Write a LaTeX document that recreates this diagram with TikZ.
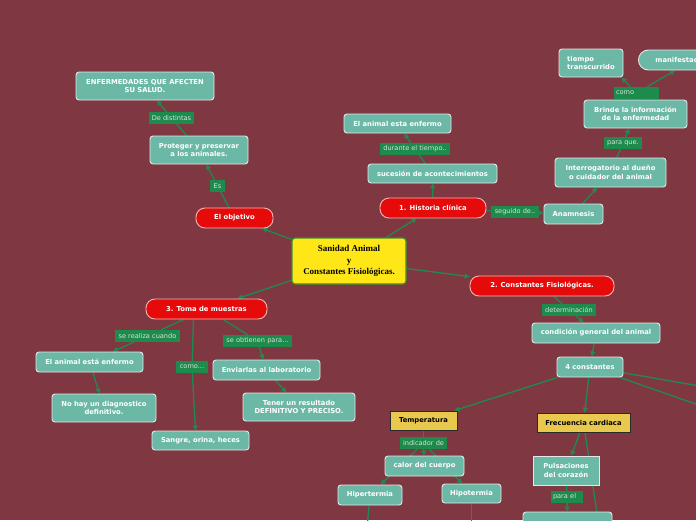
\documentclass[tikz,border=0pt]{standalone}
\usepackage{fontspec}
\newfontfamily\mapfont{DejaVu Sans}
\newfontfamily\rootfont{Liberation Serif}
\usetikzlibrary{arrows.meta, backgrounds}
\definecolor{cbg}{HTML}{7F3842}
\definecolor{cteal}{HTML}{6BB8A7}
\definecolor{cedge}{HTML}{E6E6E6}
\definecolor{cred}{HTML}{E60A0A}
\definecolor{cpink}{HTML}{F2B5B5}
\definecolor{cyellow}{HTML}{FFE617}
\definecolor{crootb}{HTML}{3E8E2A}
\definecolor{cgold}{HTML}{E9C84E}
\definecolor{cdark}{HTML}{2A2A2A}
\definecolor{clbl}{HTML}{1C8B4C}
\definecolor{clink}{HTML}{1F8A4F}
\tikzset{
  every picture/.style={x=1pt, y=-1pt},
  topic/.style={draw=cedge, fill=cteal, text=white, rounded corners=3pt, line width=0.9pt,
    font=\mapfont\bfseries\fontsize{6.8}{8.6}\selectfont, align=center, inner sep=0pt, minimum height=20pt},
  key/.style={topic, draw=cpink, fill=cred, rounded corners=9pt},
  const/.style={topic, draw=cdark, fill=cgold, text=black, rounded corners=0pt},
  root/.style={draw=crootb, fill=cyellow, text=black, rounded corners=3pt, line width=1.2pt,
    font=\rootfont\bfseries\fontsize{9}{11.8}\selectfont, align=center, inner sep=0pt},
  lbl/.style={fill=clbl, text=white!88!black, font=\mapfont\fontsize{6.6}{7}\selectfont,
    inner sep=0pt, minimum height=12pt},
  link/.style={draw=clink, line width=1.3pt},
  arrow/.style={link, -{Triangle[length=5pt, width=5pt]}},
}

\begin{document}
\begin{tikzpicture}
  \useasboundingbox (0,0) rectangle (696,520);
  \begin{scope}[on background layer]
    \fill[cbg] (0,0) rectangle (696,520);
  \end{scope}

  \node[root, minimum width=114pt, minimum height=46pt] (root) at (349,261)
    {Sanidad Animal\\y\\Constantes Fisiológicas.};

  % objetivo
  \node[key, minimum width=77pt] (objetivo) at (234.5,218) {El objetivo};
  \node[topic, minimum width=98pt, minimum height=28pt] (proteger) at (199,150) {Proteger y preservar\\a los animales.};
  \node[topic, minimum width=138pt, minimum height=28pt] (enfermedades) at (145,86) {ENFERMEDADES QUE AFECTEN\\SU SALUD.};
  \node[lbl, minimum width=45pt] (lblDist) at (171.5,118) {De distintas};
  \node[lbl, minimum width=15pt] (lblEs) at (217.5,186) {Es};

  % historia clinica
  \node[key, minimum width=106pt] (historia) at (433,208) {1. Historia clínica};
  \node[topic, minimum width=129pt, minimum height=19pt] (sucesion) at (432.5,173.5) {sucesión de acontecimientos};
  \node[topic, minimum width=107pt, minimum height=19pt] (enfermo) at (397.5,123.5) {El animal esta enfermo};
  \node[lbl, minimum width=70pt] (lblDur) at (415,149) {durante el tiempo..};
  \node[lbl, minimum width=48pt] (lblSeg) at (515,212) {seguido de..};
  \node[topic, minimum width=59pt] (anamnesis) at (573.5,214) {Anamnesis};
  \node[topic, minimum width=111pt, minimum height=29pt] (interrog) at (610.5,172.5) {Interrogatorio al dueño\\o cuidador del animal};
  \node[lbl, minimum width=38pt] (lblPara) at (623,143) {para que.};
  \node[topic, minimum width=103pt, minimum height=28pt] (brinde) at (635.5,114) {Brinde la información\\de la enfermedad};
  \node[lbl, text width=41pt, align=left, inner xsep=2pt] (lblComo) at (636.5,93) {como};
  \node[topic, minimum width=64pt, minimum height=28pt, align=left] (tiempo) at (591,63) {tiempo\\transcurrido};
  \node[topic, anchor=west, inner xsep=17pt, rounded corners=10pt] (manif) at (638,60) {manifestaciones};

  % constantes
  \node[key, minimum width=144pt] (constantes) at (542,286) {2. Constantes Fisiológicas.};
  \node[lbl, minimum width=54pt] (lblDet) at (569,310) {determinación};
  \node[topic, minimum width=128pt] (condicion) at (596,333) {condición general del animal};
  \node[topic, minimum width=66pt] (cuatro) at (590,367) {4 constantes};
  \node[const, minimum width=67pt, minimum height=19pt] (temp) at (423.5,420.5) {Temperatura};
  \node[const, minimum width=93pt, minimum height=19pt] (frec) at (583.5,422.5) {Frecuencia cardiaca};
  \node[lbl, minimum width=47pt] (lblInd) at (423.5,443) {indicador de};
  \node[topic, minimum width=79pt] (calor) at (424.5,466) {calor del cuerpo};
  \node[topic, minimum width=64pt] (hiper) at (370,495) {Hipertermia};
  \node[topic, minimum width=59pt, minimum height=19pt] (hipo) at (471.5,493.5) {Hipotermia};
  \node[topic, minimum width=66pt, minimum height=29pt, rounded corners=0pt] (pulso) at (566,470.5) {Pulsaciones\\del corazón};
  \node[lbl, text width=28pt, align=left, inner xsep=2pt] (lblParaEl) at (567,497) {para el};
  \node[topic, minimum width=89pt, minimum height=24pt] (bajo) at (567.5,524) {};
  \coordinate (offA) at (760,396.5);
  \coordinate (offB) at (760,426.5);
  \coordinate (offC) at (366,540);
  \coordinate (offD) at (471.5,540);
  \coordinate (offE) at (601,540);

  % toma de muestras
  \node[key, minimum width=121pt] (toma) at (206.5,309) {3. Toma de muestras};
  \node[lbl, minimum width=65pt] (lblReal) at (147.5,336) {se realiza cuando};
  \node[topic, minimum width=107pt] (enfermo2) at (89.5,362) {El animal está enfermo};
  \node[topic, minimum width=104pt, minimum height=28pt] (diag) at (104,408) {No hay un diagnostico\\definitivo.};
  \node[lbl, minimum width=32pt] (lblComo2) at (192,367) {como...};
  \node[topic, minimum width=97pt, minimum height=19pt] (sangre) at (200.5,440.5) {Sangre, orina, heces};
  \node[lbl, minimum width=69pt] (lblObt) at (257.5,341) {se obtienen para...};
  \node[topic, minimum width=107pt] (enviar) at (266.5,370) {Enviarlas al laboratorio};
  \node[topic, minimum width=112pt, minimum height=28pt] (tener) at (299,407) {Tener un resultado\\DEFINITIVO Y PRECISO.};

  \begin{scope}[on background layer]
    \draw[arrow] (root) -- (objetivo);
    \draw[link] (objetivo) -- (lblEs);
    \draw[arrow] (lblEs) -- (proteger);
    \draw[link] (proteger) -- (lblDist);
    \draw[arrow] (lblDist) -- (enfermedades);

    \draw[arrow] (root) -- (historia);
    \draw[arrow] (historia) -- (sucesion);
    \draw[link] (sucesion) -- (lblDur);
    \draw[arrow] (lblDur) -- (enfermo);
    \draw[link] (historia) -- (lblSeg);
    \draw[arrow] (lblSeg) -- (anamnesis);
    \draw[arrow] (anamnesis) -- (interrog);
    \draw[link] (interrog) -- (lblPara);
    \draw[arrow] (lblPara) -- (brinde);
    \draw[link] (brinde) -- (lblComo);
    \draw[arrow] (lblComo) -- ([xshift=-2pt]tiempo.south east);
    \draw[arrow] (lblComo) -- ([xshift=37pt]manif.south west);

    \draw[arrow] (root) -- (constantes);
    \draw[link] (constantes) -- (lblDet);
    \draw[arrow] (lblDet) -- (condicion);
    \draw[arrow] (condicion) -- (cuatro);
    \draw[arrow] (cuatro) -- (temp);
    \draw[arrow] (cuatro) -- (frec);
    \draw[link] (cuatro) -- (offA);
    \draw[link] (cuatro) -- (offB);
    \draw[link] (temp) -- (lblInd);
    \foreach \n in {calor, hiper, hipo}
      \draw[arrow] (lblInd) -- (\n);
    \draw[link] (hiper) -- (offC);
    \draw[link] (hipo) -- (offD);
    \draw[arrow] (frec) -- (pulso);
    \draw[link] (frec) -- (offE);
    \draw[link] (pulso) -- (lblParaEl);
    \draw[arrow] (lblParaEl) -- (bajo);

    \draw[arrow] (root) -- (toma);
    \draw[link] (toma) -- (lblReal);
    \draw[arrow] (lblReal) -- (enfermo2);
    \draw[arrow] (enfermo2) -- (diag);
    \draw[link] ([xshift=-13pt]toma.south) -- (lblComo2);
    \draw[arrow] (lblComo2) -- ([xshift=-5pt]sangre.north);
    \draw[link] (toma) -- (lblObt);
    \draw[arrow] (lblObt) -- (enviar);
    \draw[arrow] (enviar) -- (tener);
  \end{scope}
\end{tikzpicture}
\end{document}
